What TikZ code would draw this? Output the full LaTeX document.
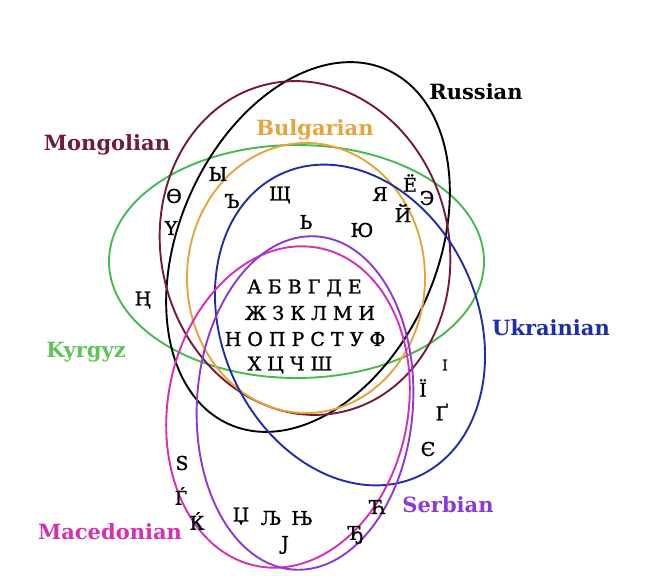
\documentclass[tikz,border=0pt]{standalone}
\usepackage{fontspec}
\setmainfont{DejaVu Serif}
\newfontfamily\letfont[FakeBold=1.2]{DejaVu Serif}
\definecolor{rusc}{RGB}{0,0,0}
\definecolor{monc}{RGB}{118,24,58}
\definecolor{bulc}{RGB}{232,163,58}
\definecolor{kyrc}{RGB}{70,185,80}
\definecolor{kyrl}{RGB}{95,195,90}
\definecolor{ukrc}{RGB}{30,45,170}
\definecolor{macc}{RGB}{214,48,178}
\definecolor{serc}{RGB}{140,58,212}
\tikzset{
  ell/.style={line width=1.9pt},
  lbl/.style={font=\bfseries\fontsize{21}{21}\selectfont, inner sep=0pt},
  let/.style={font=\letfont\fontsize{19}{19}\selectfont, inner sep=0pt}
}
\begin{document}
\begin{tikzpicture}[x=1pt,y=-1pt]
\useasboundingbox (0,0) rectangle (655,575);
% ellipses
\draw[ell,kyrc] (296.5,261.5) ellipse [x radius=187.5, y radius=116.5];
\draw[ell,rusc,rotate around={66:(308,247)}] (308,247) ellipse [x radius=194, y radius=129];
\draw[ell,monc,rotate around={103:(305,248)}] (305,248) ellipse [x radius=168, y radius=144];
\draw[ell,bulc] (306,278) ellipse [x radius=119, y radius=135];
\draw[ell,ukrc,rotate around={114:(350,325)}] (350,325) ellipse [x radius=166, y radius=128];
\draw[ell,macc,rotate around={79:(288,407)}] (288,407) ellipse [x radius=162, y radius=120];
\draw[ell,serc,rotate around={86:(305,403)}] (305,403) ellipse [x radius=167, y radius=108];
% labels
\node[lbl,text=rusc] (lRus) at (476,92) {Russian};
\node[lbl,text=monc] (lMon) at (107,145) {Mongolian};
\node[lbl,text=bulc] (lBul) at (315,130) {Bulgarian};
\node[lbl,text=kyrl] (lKyr) at (86,352) {Kyrgyz};
\node[lbl,text=ukrc] (lUkr) at (551,328) {Ukrainian};
\node[lbl,text=macc] (lMac) at (110,532) {Macedonian};
\node[lbl,text=serc] (lSer) at (448,505) {Serbian};
% common letters
\node[let] (r1) at (304.5,288) {А Б В Г Д Е};
\node[let] (r2) at (310,313) {Ж З К Л М И};
\node[let] (r3) at (305,339) {Н О П Р С Т У Ф};
\node[let] (r4) at (290,365) {Х Ц Ч Ш};
% top letters
\node[let] (cOe) at (174,196) {Ө};
\node[let] (cY) at (218,174) {Ы};
\node[let] (cHard) at (232,201) {Ъ};
\node[let] (cShch) at (280,195) {Щ};
\node[let] (cUe) at (171,228) {Ү};
\node[let] (cSoft) at (306,222) {Ь};
\node[let] (cYu) at (362,230) {Ю};
\node[let] (cYa) at (380,194) {Я};
\node[let] (cYo) at (410,183) {Ё};
\node[let] (cE) at (427,198) {Э};
\node[let] (cJ) at (403,213) {Й};
\node[let] (cNg) at (143,300) {Ң};
% Ukrainian
\node[let,font=\letfont\fontsize{15}{15}\selectfont] (uI) at (445,365) {І};
\node[let] (uYi) at (423,388) {Ї};
\node[let] (uGe) at (442,412) {Ґ};
\node[let] (uYe) at (428,449) {Є};
% Macedonian
\node[let] (mDze) at (182,463) {Ѕ};
\node[let] (mGje) at (181,496) {Ѓ};
\node[let] (mKje) at (197,521) {Ќ};
% shared Mac/Serb
\node[let] (sDzhe) at (241,516) {Џ};
\node[let] (sLje) at (271,518) {Љ};
\node[let] (sNje) at (302,518) {Њ};
\node[let] (sJe) at (285,545) {Ј};
% Serbian
\node[let] (sTshe) at (378,507) {Ћ};
\node[let] (sDje) at (356,535) {Ђ};
\end{tikzpicture}
\end{document}
